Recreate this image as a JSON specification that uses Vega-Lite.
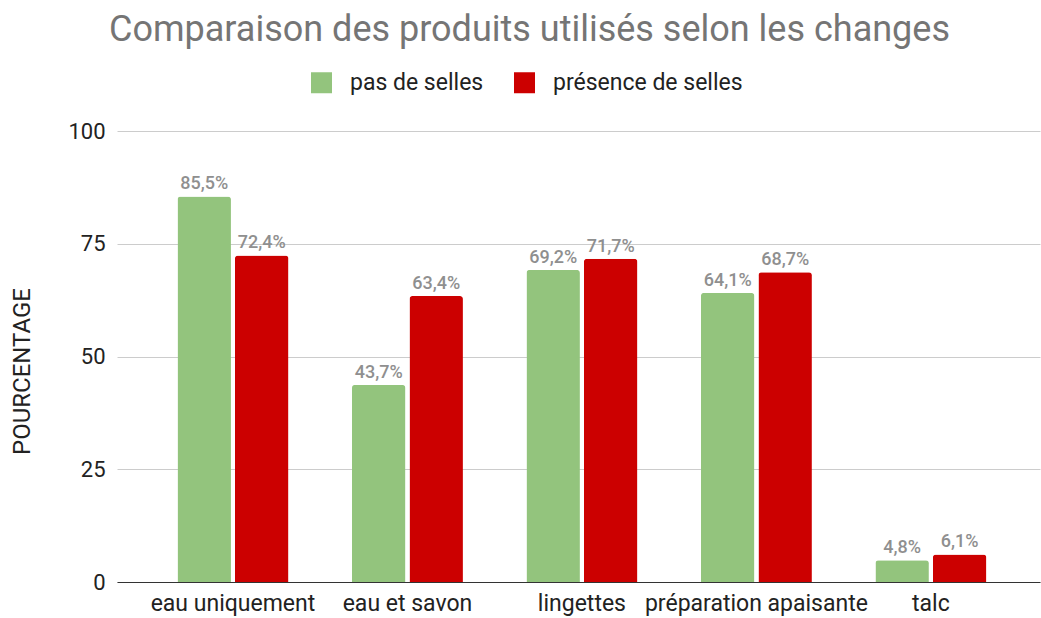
{
  "$schema": "https://vega.github.io/schema/vega-lite/v6.json",
  "autosize": "none",
  "width": 923,
  "height": 451,
  "padding": {"left": 117, "top": 131, "right": 1, "bottom": 36},
  "background": "white",
  "title": {
    "text": "Comparaison des produits utilisés selon les changes",
    "font": "Roboto",
    "fontSize": 36,
    "fontWeight": "normal",
    "color": "#757575",
    "anchor": "middle",
    "dx": -49,
    "offset": 22
  },
  "data": {
    "values": [
      {"produit": "eau uniquement", "groupe": "pas de selles", "pct": 85.5},
      {"produit": "eau uniquement", "groupe": "présence de selles", "pct": 72.4},
      {"produit": "eau et savon", "groupe": "pas de selles", "pct": 43.7},
      {"produit": "eau et savon", "groupe": "présence de selles", "pct": 63.4},
      {"produit": "lingettes", "groupe": "pas de selles", "pct": 69.2},
      {"produit": "lingettes", "groupe": "présence de selles", "pct": 71.7},
      {"produit": "préparation apaisante", "groupe": "pas de selles", "pct": 64.1},
      {"produit": "préparation apaisante", "groupe": "présence de selles", "pct": 68.7},
      {"produit": "talc", "groupe": "pas de selles", "pct": 4.8},
      {"produit": "talc", "groupe": "présence de selles", "pct": 6.1}
    ]
  },
  "transform": [
    {"calculate": "replace(format(datum.pct, '.1f'), '.', ',') + '%'", "as": "etiquette"}
  ],
  "encoding": {
    "x": {
      "field": "produit",
      "type": "nominal",
      "sort": null,
      "scale": {"paddingInner": 0.364, "paddingOuter": 0.327, "align": 0.53},
      "axis": {
        "title": null,
        "labelAngle": 0,
        "labelFont": "Roboto",
        "labelFontSize": 23,
        "labelColor": "#222222",
        "labelPadding": 10,
        "labelLimit": 0,
        "labelOverlap": false,
        "ticks": false,
        "domain": true,
        "domainColor": "#333333",
        "domainWidth": 1,
        "grid": false
      }
    },
    "xOffset": {
      "field": "groupe",
      "type": "nominal",
      "scale": {"paddingInner": 0.07, "paddingOuter": 0}
    },
    "y": {
      "field": "pct",
      "type": "quantitative",
      "scale": {"domain": [0, 100], "nice": false},
      "axis": {
        "title": "POURCENTAGE",
        "titleFont": "Roboto",
        "titleFontSize": 24,
        "titleFontWeight": "normal",
        "titleColor": "#222222",
        "titlePadding": 33,
        "titleY": 240,
        "values": [0, 25, 50, 75, 100],
        "labelFont": "Roboto",
        "labelFontSize": 22,
        "labelColor": "#222222",
        "labelPadding": 12,
        "ticks": false,
        "domain": false,
        "gridColor": "#cccccc",
        "gridWidth": 1
      }
    }
  },
  "layer": [
    {
      "mark": {"type": "bar", "cornerRadiusTopLeft": 3, "cornerRadiusTopRight": 3},
      "encoding": {
        "color": {
          "field": "groupe",
          "type": "nominal",
          "scale": {"domain": ["pas de selles", "présence de selles"], "range": ["#93c47d", "#cc0000"]},
          "legend": {
            "title": null,
            "orient": "none",
            "direction": "horizontal",
            "legendX": 193,
            "legendY": -60,
            "symbolType": "square",
            "symbolSize": 441,
            "symbolStrokeWidth": 0,
            "labelFont": "Roboto",
            "labelFontSize": 23,
            "labelColor": "#222222",
            "labelOffset": 17,
            "labelLimit": 0,
            "columnPadding": 29
          }
        }
      }
    },
    {
      "mark": {"type": "text", "baseline": "bottom", "dy": -3, "font": "Roboto", "fontSize": 18, "fontWeight": 500, "color": "#8f8f8f"},
      "encoding": {
        "text": {"field": "etiquette"}
      }
    }
  ],
  "config": {
    "view": {"stroke": null}
  }
}
